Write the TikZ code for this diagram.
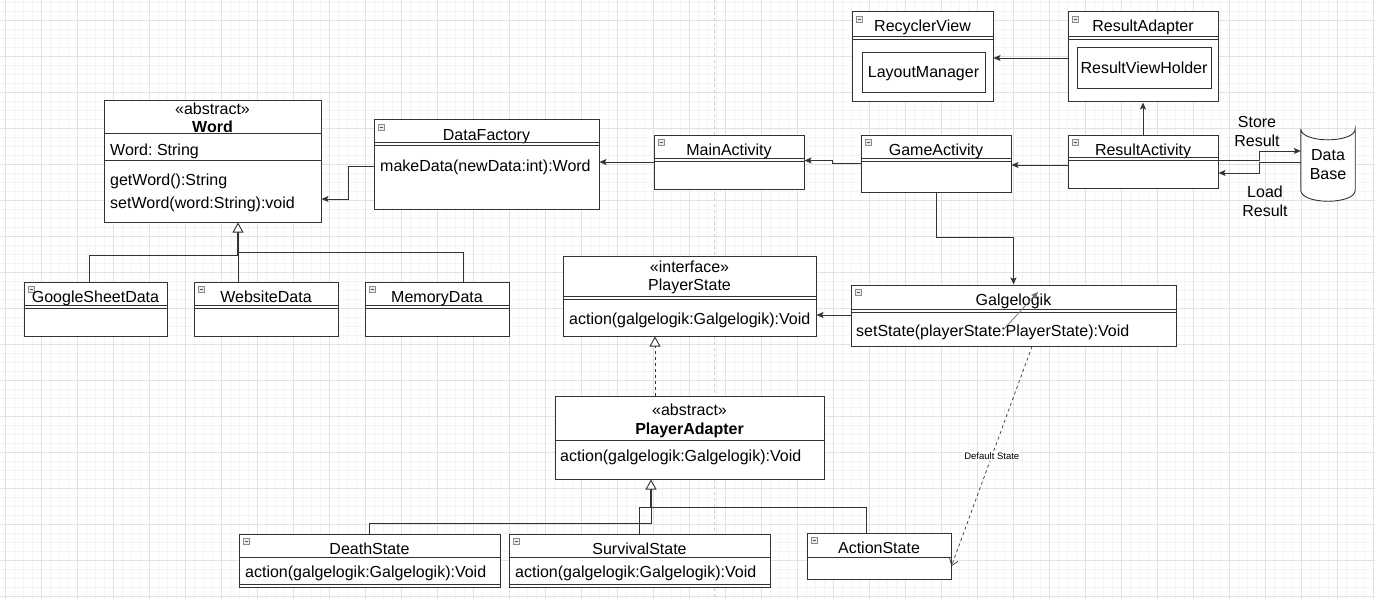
\documentclass[tikz,border=0pt]{standalone}
\usepackage{fontspec}
\setmainfont{Liberation Sans}
\usetikzlibrary{arrows.meta,fit,positioning}
\definecolor{umlline}{RGB}{51,51,51}
\definecolor{gridmajor}{RGB}{226,226,226}
\definecolor{gridminor}{RGB}{244,244,244}
\definecolor{pagebreak}{RGB}{205,205,205}
\definecolor{iconfill}{RGB}{236,236,236}
\definecolor{icongray}{RGB}{140,140,140}

\newcommand{\umlfont}{\fontsize{16}{19}\selectfont}
\newcommand{\umlclass}[4]{%
  \node[cls, fit={#2 #3}] (#1) {};
  \draw[minusbox] ([shift={(5pt,-5pt)}]#1.north west) rectangle ++(6,6);
  \draw[minusbar] ([shift={(6.2pt,-8pt)}]#1.north west) -- ++(3.6,0);
  \node[lbl] (#1-t) at ([yshift=-16.5pt]#1.north) {#4};}
\newcommand{\dsep}[2]{%
  \draw[conn] (#1.west |- 0,#2) -- (#1.east |- 0,#2)
    (#1.west |- 0,#2+3) -- (#1.east |- 0,#2+3);}
\newcommand{\ssep}[2]{\draw[conn] (#1.west |- 0,#2) -- (#1.east |- 0,#2);}

\begin{document}
\frenchspacing
\begin{tikzpicture}[x=1pt, y=-1pt,
    cls/.style={draw=umlline, fill=white, line width=1pt, inner sep=0pt},
    lbl/.style={font=\umlfont, inner sep=0pt, text height=11.5pt, text depth=3.5pt},
    meth/.style={lbl, anchor=west},
    note/.style={font=\umlfont, align=center, inner sep=0pt},
    minusbox/.style={draw=icongray, fill=iconfill, line width=0.5pt},
    minusbar/.style={draw=icongray!60!black, line width=0.8pt},
    conn/.style={draw=umlline, line width=0.9pt},
    arr/.style={conn, -{Stealth[length=7pt,width=6pt,inset=1.5pt]}},
    inh/.style={conn, -{Triangle[open,fill=white,length=10pt,width=11pt,line width=0.9pt]}},
    trunk/.style={inh, line width=1.6pt}]
    \useasboundingbox (0,0) rectangle (1375,599);
    \fill[white] (0,0) rectangle (1375,599);

    % draw.io grid
    \foreach \g in {5,14,...,1375} \draw[gridminor, line width=0.6pt] (\g,0) -- (\g,599);
    \foreach \g in {2,11,...,599} \draw[gridminor, line width=0.6pt] (0,\g) -- (1375,\g);
    \foreach \g in {5,41,...,1375} \draw[gridmajor, line width=0.8pt] (\g,0) -- (\g,599);
    \foreach \g in {20,56,...,599} \draw[gridmajor, line width=0.8pt] (0,\g) -- (1375,\g);
    \draw[pagebreak, line width=0.8pt, dash pattern=on 3pt off 3pt] (714,0) -- (714,599);

    % result screen
    \umlclass{recycler}{(852,12)}{(993,102)}{RecyclerView}
    \dsep{recycler}{36}
    \node[cls, fit={(862,53) (985,93)}] (layout) {};
    \node[lbl] (layout-t) at ([yshift=-1pt]layout.center) {LayoutManager};
    \umlclass{resadapter}{(1068,12)}{(1218,102)}{ResultAdapter}
    \dsep{resadapter}{36}
    \node[cls, fit={(1077,48) (1211,89)}] (holder) {};
    \node[lbl] (holder-t) at ([yshift=-1pt]holder.center) {ResultViewHolder};
    \umlclass{resactivity}{(1068,135)}{(1218,188)}{ResultActivity}
    \dsep{resactivity}{157}

    % database
    \node[inner sep=0pt, minimum width=54pt, minimum height=72pt] (db) at (1328,165) {};
    \draw[conn, fill=white] (db.north west) -- ([yshift=11pt]db.south west)
        .. controls +(0,14.7) and +(0,14.7) .. ([yshift=11pt]db.south east)
        -- (db.north east) .. controls +(0,14.7) and +(0,14.7) .. (db.north west);
    \node[note] (db-t) at (db.center) {Data\\Base};

    % activities
    \umlclass{game}{(861,135)}{(1011,192)}{GameActivity}
    \dsep{game}{158}
    \umlclass{main}{(654,135)}{(804,189)}{MainActivity}
    \dsep{main}{158}
    \umlclass{factory}{(374,120)}{(599,209)}{DataFactory}
    \dsep{factory}{142}
    \node[meth] (makedata) at (380,167) {makeData(newData:int):Word};

    % Word and its data sources
    \node[cls, fit={(104,101) (321,222)}] (word) {};
    \node[lbl] (word-s) at (212.5,110) {«abstract»};
    \node[lbl, font=\umlfont\bfseries] (word-t) at (212.5,128) {Word};
    \ssep{word}{133}
    \node[meth] (word-a) at (110,151) {Word: String};
    \ssep{word}{160}
    \node[meth] (word-m1) at (110,181) {getWord():String};
    \node[meth] (word-m2) at (110,204) {setWord(word:String):void};
    \umlclass{gsheet}{(24,282)}{(167,336)}{GoogleSheetData}
    \dsep{gsheet}{305}
    \umlclass{website}{(194,282)}{(338,336)}{WebsiteData}
    \dsep{website}{305}
    \umlclass{memory}{(365,282)}{(509,336)}{MemoryData}
    \dsep{memory}{305}

    % game logic and states
    \node[cls, fit={(563,256) (816,336)}] (pstate) {};
    \node[lbl] (pstate-s) at (689.5,268) {«interface»};
    \node[lbl] (pstate-t) at (689.5,286) {PlayerState};
    \dsep{pstate}{296}
    \node[meth] (pstate-m) at (569,320) {action(galgelogik:Galgelogik):Void};
    \umlclass{galge}{(851,285)}{(1176,346)}{Galgelogik}
    \dsep{galge}{309}
    \node[meth] (galge-m) at (856,332) {setState(playerState:PlayerState):Void};
    \node[cls, fit={(555,396) (824,479)}] (padapter) {};
    \node[lbl] (padapter-s) at (689.5,411) {«abstract»};
    \node[lbl, font=\umlfont\bfseries] (padapter-t) at (689.5,430) {PlayerAdapter};
    \ssep{padapter}{440}
    \node[meth] (padapter-m) at (560,457) {action(galgelogik:Galgelogik):Void};
    \umlclass{death}{(239,534)}{(500,587)}{DeathState}
    \ssep{death}{557}
    \ssep{death}{584}
    \node[meth] (death-m) at (245,573) {action(galgelogik:Galgelogik):Void};
    \umlclass{survival}{(509,534)}{(770,587)}{SurvivalState}
    \ssep{survival}{557}
    \ssep{survival}{584}
    \node[meth] (survival-m) at (515,573) {action(galgelogik:Galgelogik):Void};
    \umlclass{actionst}{(807,533)}{(951,579)}{ActionState}
    \ssep{actionst}{557}

    % associations
    \draw[arr] (resadapter.west |- 0,58) -- (recycler.east |- 0,58);
    \draw[arr] (resactivity.north) -- (resadapter.south);
    \draw[arr] (resactivity.west |- 0,165) -- (game.east |- 0,165);
    \draw[arr] (resactivity.east |- 0,160) -- (1259,160) -- (1259,151) -- (db.west |- 0,151);
    \draw[arr] (db.west |- 0,162) -- (1259,162) -- (1259,173) -- (resactivity.east |- 0,173);
    \node[note] (store) at (1257,131) {Store\\Result};
    \node[note] (load) at (1265,201) {Load\\Result};
    \draw[arr] (game.west |- 0,163.5) -- (832,163.5) -- (832,160.5) -- (main.east |- 0,160.5);
    \draw[arr] (main.west |- 0,162) -- (factory.east |- 0,162);
    \draw[arr] (factory.west |- 0,166) -| (348,199) -- (word.east |- 0,199);
    \draw[arr] (game.south) |- (galge.north |- 0,237) -- (galge.north);
    \draw[arr] (galge.west |- 0,315) -- (pstate.east |- 0,315);

    % inheritance
    \draw[conn] (89,0 |- gsheet.north) |- (238,255);
    \draw[conn] (463,0 |- memory.north) |- (238,252);
    \draw[conn] (238,0 |- website.north) -- (238,252);
    \draw[trunk] (238,255) -- (238,0 |- word.south);
    \draw[conn] (death.north) |- (651,523) -- (651,507);
    \draw[conn] (survival.north) |- (651,507);
    \draw[conn] (866,0 |- actionst.north) |- (651,507);
    \draw[trunk] (651,507) -- (651,0 |- padapter.south);
    \draw[inh, dash pattern=on 3pt off 3pt] (655,0 |- padapter.north) -- (655,0 |- pstate.south);

    % default state
    \coordinate (ds-a) at (1003,330);
    \coordinate (ds-b) at (1038,292);
    \draw[arr, draw=umlline!70, line width=0.7pt] (ds-a) -- (ds-b);
    \draw[conn, line width=0.7pt, dash pattern=on 3pt off 3pt, -{Straight Barb[length=6pt,width=9pt]}]
        (1032,0 |- galge.south) -- (actionst.east |- 0,566)
        node[pos=0.5, fill=white, inner sep=1pt, font=\fontsize{9.5}{11}\selectfont] (ds-lbl) {Default State};
\end{tikzpicture}
\end{document}
